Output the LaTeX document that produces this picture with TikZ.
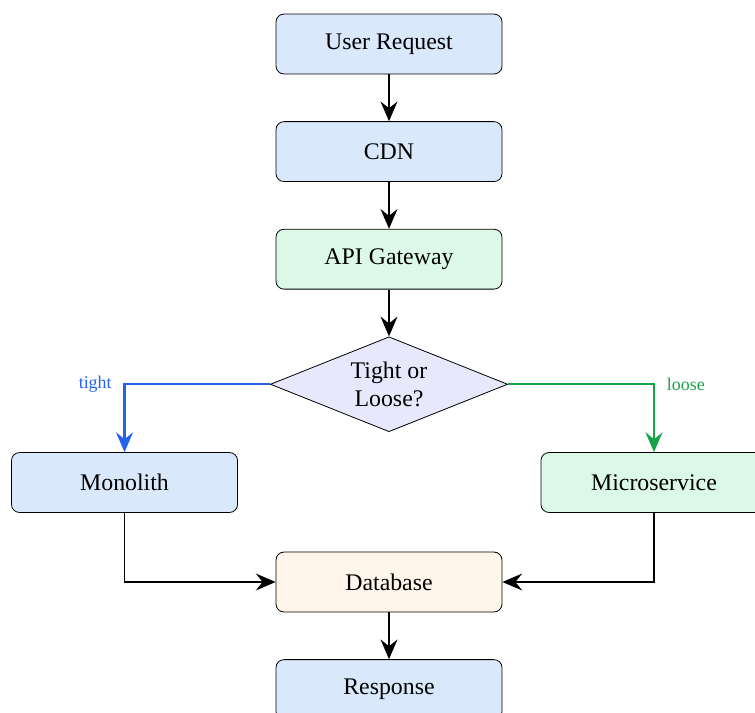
\documentclass[tikz,border=0pt]{standalone}
\usepackage{fontspec}
\setmainfont{Liberation Serif}
\usetikzlibrary{arrows.meta,positioning,shapes.geometric}
\definecolor{BoxBlue}{HTML}{DAE8FC}
\definecolor{BoxGreen}{HTML}{DCF8E6}
\definecolor{BoxLilac}{HTML}{E8E8FC}
\definecolor{BoxCream}{HTML}{FFF5EB}
\definecolor{LineBlue}{HTML}{2563EB}
\definecolor{LineGreen}{HTML}{16A34A}
\tikzset{
    block/.style = {draw, rectangle, rounded corners=4pt,
        minimum height=1.06cm,
        minimum width=4cm, font=\large},
    decision/.style = {draw, diamond, aspect=2.5, inner sep=0pt,
        minimum width=4.2cm, minimum height=1.68cm,
        align=center, font=\large, fill=BoxLilac},
    arrow/.style = {draw, thick, -{Stealth[length=3.5mm,width=3mm,inset=1.2mm]}},
    branch/.style = {font=\small}
}

\begin{document}
\begin{tikzpicture}[node distance=0.83cm]
    \useasboundingbox (0,0) rectangle (13.363,-12.619);
    \clip (0,0) rectangle (13.363,-12.619);
        % main column
        \node [block, fill=BoxBlue] (request) at (6.885,-0.779) {User Request};
        \node [block, fill=BoxBlue, below=of request] (cdn) {CDN};
        \node [block, fill=BoxGreen, below=of cdn] (gateway) {API Gateway};
        \node [decision, below=of gateway] (choice) {Tight or\\Loose?};
        % the two architectures
        \node [block, fill=BoxBlue] (monolith) at (2.204,-8.540) {Monolith};
        \node [block, fill=BoxGreen] (micro) at (11.575,-8.540) {Microservice};
        \node [block, fill=BoxCream] (db) at (6.885,-10.301) {Database};
        \node [block, fill=BoxBlue, below=of db] (response) {Response};
        \coordinate (tightcorner) at (monolith.north |- choice.west);
        \coordinate (loosecorner) at (micro.north |- choice.east);
        \draw [arrow] (request) -- (cdn);
        \draw [arrow] (cdn) -- (gateway);
        \draw [arrow] (gateway) -- (choice);
        \draw [arrow, color=LineBlue, line width=1.1pt] (choice.west) -- (tightcorner) -- (monolith.north);
        \draw [arrow, color=LineGreen, line width=1.1pt] (choice.east) -- (loosecorner) -- (micro.north);
        \node [branch, anchor=east, text=LineBlue] (tightlabel) at ([xshift=-3pt]tightcorner) {tight};
        \node [branch, anchor=west, text=LineGreen] (looselabel) at ([xshift=3pt]loosecorner) {loose};
        \draw [arrow] (monolith.south) |- (db.west);
        \draw [arrow] (micro.south) |- (db.east);
        \draw [arrow] (db) -- (response);
\end{tikzpicture}
\end{document}
